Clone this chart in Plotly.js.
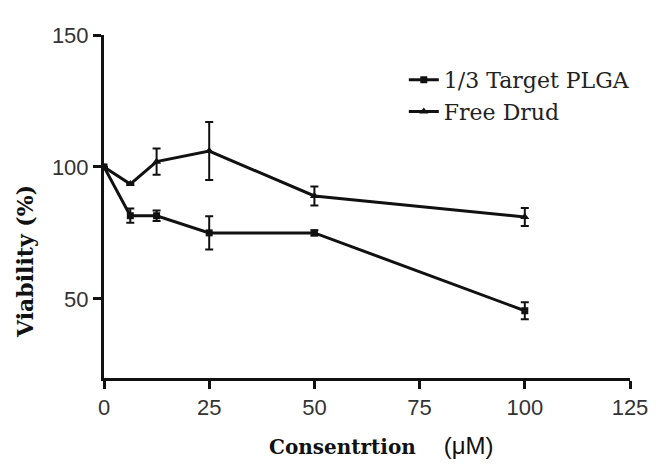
<!DOCTYPE html>
<html><head><meta charset="utf-8">
<script src="https://cdn.plot.ly/plotly-3.0.1.min.js"></script>
<style>body{margin:0;background:#fff}#plot{width:659px;height:467px}</style>
</head><body><div id="plot"></div>
<script>
var conc = [0, 6.25, 12.5, 25, 50, 100];
var plgaVals = [100, 81.5, 81.5, 75, 75, 45.5];
var plgaErr = [0, 2.7, 2, 6.3, 1, 3.2];
var freeVals = [100, 93.5, 102, 106, 89, 81];
var freeErr = [0, 0, 5, 11, 3.6, 3.4];
var seriesNames = ["1/3 Target PLGA", "Free Drud"];
var xTicks = [0, 25, 50, 75, 100, 125];
var yTicks = [50, 100, 150];

var common = {
  type: 'scatter', mode: 'lines+markers',
  line: {color: '#111', width: 3},
};
var t1 = Object.assign({}, common, {
  x: conc, y: plgaVals, name: seriesNames[0],
  marker: {symbol: 'square', size: 7, color: '#111'},
  error_y: {type: 'data', array: plgaErr, visible: true, color: '#111', thickness: 2, width: 4}
});
var t2 = Object.assign({}, common, {
  x: conc, y: freeVals, name: seriesNames[1],
  marker: {symbol: 'triangle-up', size: 8, color: '#111'},
  error_y: {type: 'data', array: freeErr, visible: true, color: '#111', thickness: 2, width: 4}
});

var tickFont = {family: 'Liberation Sans, Arial, sans-serif', size: 22, color: '#333'};
var titleFont = {family: 'DejaVu Serif, serif', size: 20, color: '#111', weight: 'bold'};

var layout = {
  width: 659, height: 467,
  margin: {l: 104, r: 29, t: 35, b: 89},
  paper_bgcolor: '#fff', plot_bgcolor: '#fff',
  showlegend: true,
  legend: {x: 0.57, y: 0.93, xanchor: 'left', yanchor: 'top', bgcolor: 'rgba(0,0,0,0)',
    font: {family: 'DejaVu Serif, serif', size: 22, color: '#222'}, tracegroupgap: 0},
  xaxis: {
    range: [0, 125], tickvals: xTicks, ticktext: xTicks.map(String),
    showgrid: false, zeroline: false, showline: true, linecolor: '#111', linewidth: 3,
    ticks: 'outside', ticklen: 8, tickwidth: 3, tickcolor: '#111',
    tickfont: tickFont
  },
  yaxis: {
    range: [20, 150], tickvals: yTicks, ticktext: yTicks.map(String),
    showgrid: false, zeroline: false, showline: true, linecolor: '#111', linewidth: 3,
    ticks: 'outside', ticklen: 8, tickwidth: 3, tickcolor: '#111',
    tickfont: tickFont
  },
  annotations: [
    {xref: 'paper', yref: 'paper', x: (381 - 104) / 526, y: -(445 - 378) / 343,
     xanchor: 'center', yanchor: 'middle', showarrow: false,
     text: 'Consentrtion&nbsp;&nbsp;&nbsp;&nbsp;<span style="font-family:Liberation Sans, Arial, sans-serif;font-weight:normal;font-size:24px">(μM)</span>',
     font: titleFont},
    {xref: 'paper', yref: 'paper', x: -(104 - 25) / 526, y: 1 - (262 - 35) / 343,
     xanchor: 'center', yanchor: 'middle', showarrow: false, textangle: -90,
     text: 'Viability (%)', font: Object.assign({}, titleFont, {size: 22})}
  ]
};
Plotly.newPlot('plot', [t1, t2], layout, {displayModeBar: false, staticPlot: true});
</script></body></html>
